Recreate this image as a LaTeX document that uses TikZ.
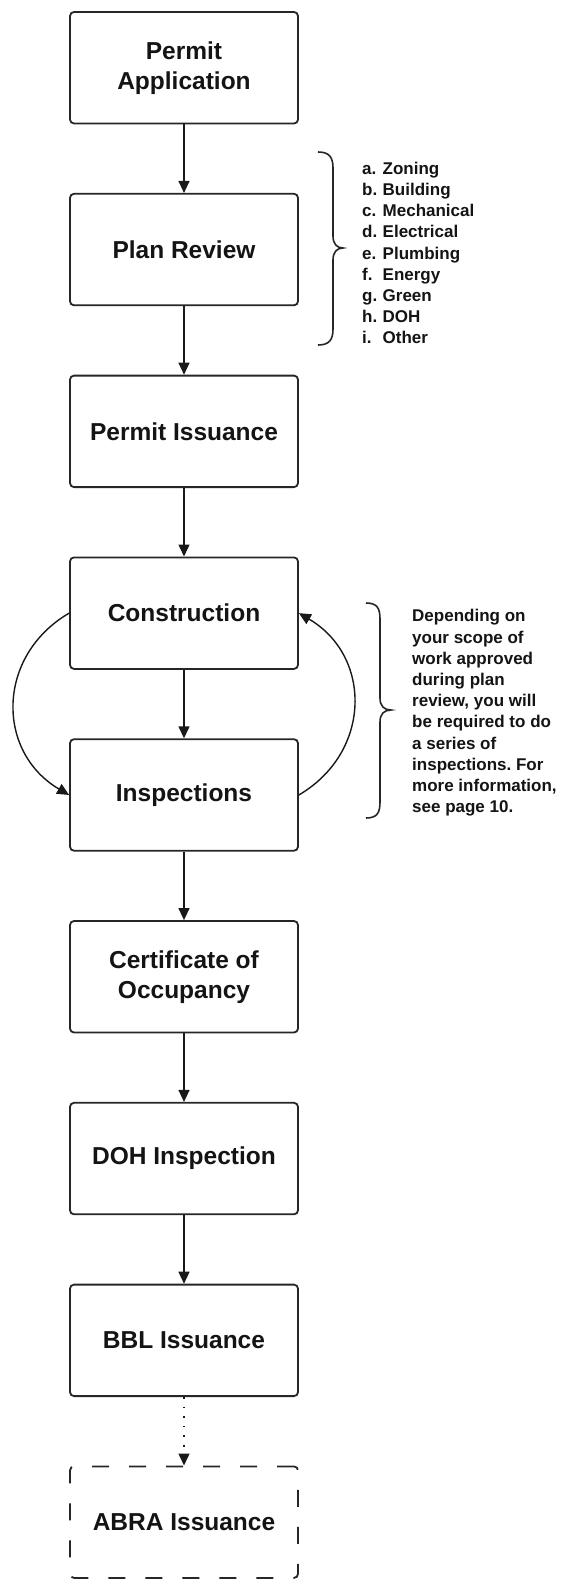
\documentclass[tikz,border=0pt]{standalone}
\usepackage{fontspec}
\setmainfont{Liberation Sans}
\usetikzlibrary{arrows.meta}
\frenchspacing
\newcommand{\lbl}[1]{\makebox[20.5pt][l]{#1}}
\begin{document}
\begin{tikzpicture}[x=1pt,y=-1pt,
  box/.style={draw=black!85, line width=1.8pt, rounded corners=4pt,
    minimum width=228pt, minimum height=111.5pt, align=center, inner sep=0pt,
    text=black!92, font=\fontsize{24.5}{30}\selectfont\bfseries},
  dashbox/.style={box, dash pattern=on 17pt off 20pt},
  arr/.style={draw=black!90, line width=1.4pt, -{Triangle[length=12pt,width=11pt]}},
  dotarr/.style={arr, dash pattern=on 1.6pt off 8pt},
  brace/.style={draw=black!85, line width=1.6pt},
  note/.style={anchor=west, align=left, inner sep=0pt, text=black!92,
    font=\fontsize{17}{21.2}\selectfont\bfseries}]
\useasboundingbox (0,0) rectangle (563,1579);
\fill[white] (0,0) rectangle (563,1579);

\node[box] (pa) at (184,67.75) {Permit\\Application};
\node[box] (pr) at (184,249.55) {Plan Review};
\node[box] (pi) at (184,431.35) {Permit Issuance};
\node[box] (co) at (184,613.15) {Construction};
\node[box] (in) at (184,794.95) {Inspections};
\node[box] (cert) at (184,976.75) {Certificate of\\Occupancy};
\node[box] (doh) at (184,1158.55) {DOH Inspection};
\node[box] (bbl) at (184,1340.35) {BBL Issuance};
\node[dashbox] (abra) at (184,1522.15) {ABRA Issuance};

\draw[arr] (pa.south) -- (pr.north);
\draw[arr] (pr.south) -- (pi.north);
\draw[arr] (pi.south) -- (co.north);
\draw[arr] (co.south) -- (in.north);
\draw[arr] (in.south) -- (cert.north);
\draw[arr] (cert.south) -- (doh.north);
\draw[arr] (doh.south) -- (bbl.north);
\draw[dotarr] (bbl.south) -- (abra.north);

% loop arrows
\draw[arr] (co.west) .. controls (-4,656) and (-4,752) .. (in.west);
\draw[arr] (in.east) .. controls (372,752) and (372,656) .. (co.east);

% brace 1 and list
\coordinate (b1t) at (318,152);
\coordinate (b1m) at (343,248);
\coordinate (b1b) at (318,345);
\draw[brace] (b1t) .. controls (329,152) and (333,157) .. (333,168) -- (333,236)
  .. controls (333,244) and (337,248) .. (b1m)
  .. controls (337,248) and (333,252) .. (333,260) -- (333,329)
  .. controls (333,340) and (329,345) .. (b1b);
\node[note] (list) at (362,253) {\lbl{a.}Zoning\\\lbl{b.}Building\\\lbl{c.}Mechanical\\\lbl{d.}Electrical\\\lbl{e.}Plumbing\\\lbl{f.}Energy\\\lbl{g.}Green\\\lbl{h.}DOH\\\lbl{i.}Other};

% brace 2 and note
\coordinate (b2t) at (366,603);
\coordinate (b2m) at (391,710);
\coordinate (b2b) at (366,818);
\draw[brace] (b2t) .. controls (377,603) and (380,608) .. (380,619) -- (380,698)
  .. controls (380,706) and (384,710) .. (b2m)
  .. controls (384,710) and (380,714) .. (380,722) -- (380,802)
  .. controls (380,813) and (377,818) .. (b2b);
\node[note] (info) at (412,713) {Depending on\\your scope of\\work approved\\during plan\\review, you will\\be required to do\\a series of\\inspections. For\\more information,\\see page 10.};
\end{tikzpicture}
\end{document}
